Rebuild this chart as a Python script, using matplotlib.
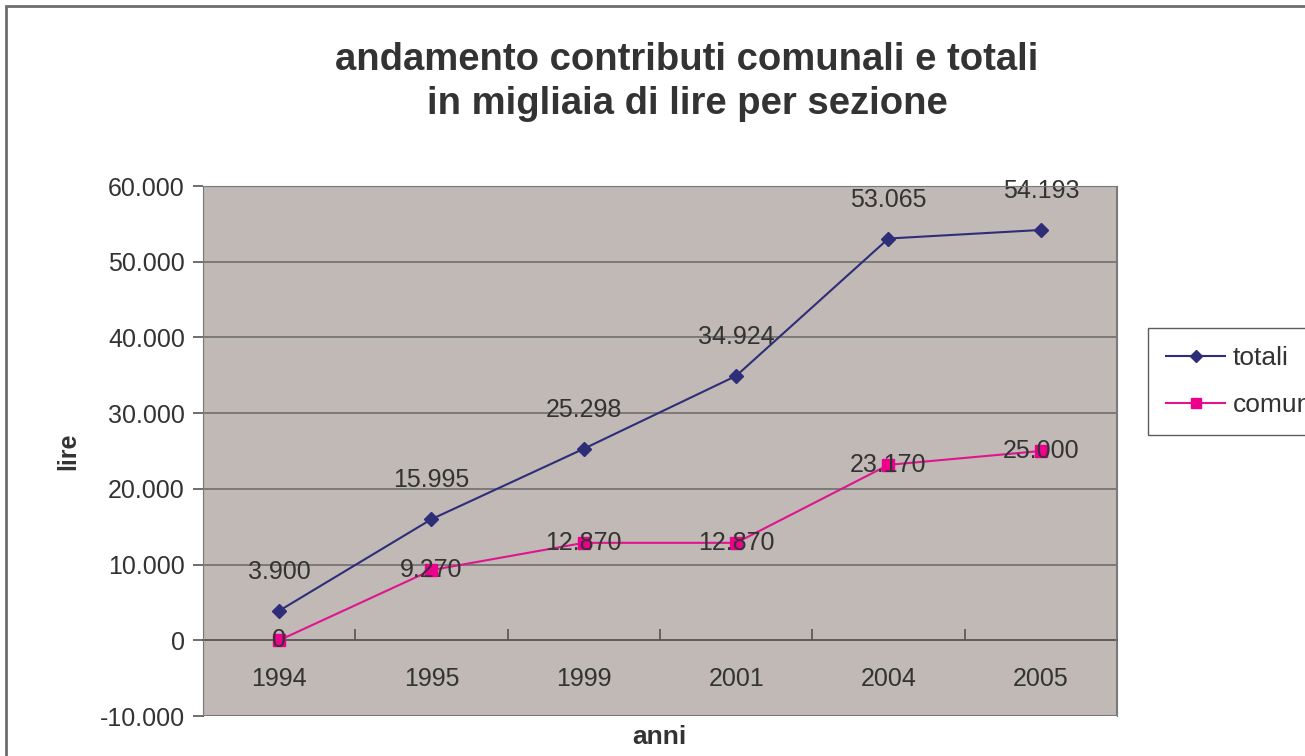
import matplotlib.pyplot as plt
from matplotlib.patches import Rectangle
from matplotlib.ticker import FixedLocator, FuncFormatter

plt.rcParams['font.family'] = ['Liberation Sans', 'DejaVu Sans']

# dati
anni = ['1994', '1995', '1999', '2001', '2004', '2005']
totali = [3900, 15995, 25298, 34924, 53065, 54193]
comunali = [0, 9270, 12870, 12870, 23170, 25000]
y_ticks = [-10000, 0, 10000, 20000, 30000, 40000, 50000, 60000]

testo = '#333333'


def punti(v):  # 12345 -> 12.345
    return f'{v:,.0f}'.replace(',', '.')


fig = plt.figure(figsize=(13.05, 7.56), dpi=100)
ax = fig.add_axes([203 / 1305, 1 - 716 / 756, 914 / 1305, 530 / 756])
ax.set_facecolor('#c0b9b6')

# cornice esterna (tagliata a destra e in basso)
fig.patches.append(Rectangle((6 / 1305, -0.1), 1.2, 1 - 6 / 756 + 0.1,
                             transform=fig.transFigure, fill=False,
                             edgecolor='#6e6e6e', lw=2))

x = list(range(len(anni)))
ax.set_xlim(-0.5, len(anni) - 0.5)
ax.set_ylim(-10000, 60000)

for v in y_ticks:
    if v != 0:
        ax.axhline(v, color='#6f6f6f', lw=1.2, zorder=1)

ax.plot(x, totali, color='#2e2e78', lw=1.5, marker='D', ms=7.5,
        mfc='#2e2e78', mec='#2e2e78', label='totali', zorder=3)
ax.plot(x, comunali, color='#e0158e', lw=1.5, marker='s', ms=8.5,
        mfc='#ec008c', mec='#ec008c', label='comunali', zorder=3)

for i, v in enumerate(totali):
    ax.annotate(punti(v), (i, v), xytext=(0, 28), textcoords='offset points',
                ha='center', va='center', fontsize=18, color=testo, zorder=4)
for i, v in enumerate(comunali):
    ax.annotate(punti(v), (i, v), xytext=(0, 0), textcoords='offset points',
                ha='center', va='center', fontsize=18, color=testo, zorder=4)

# assi
for s in ['top', 'right', 'left']:
    ax.spines[s].set_color('#7a7a7a')
ax.spines['left'].set_color('#555555')
ax.spines['bottom'].set_position(('data', 0))
ax.spines['bottom'].set_color('#555555')
ax.spines['bottom'].set_linewidth(1.3)
ax.add_patch(Rectangle((0, 0), 1, 1, transform=ax.transAxes, fill=False,
                       edgecolor='#7a7a7a', lw=1.5, zorder=5))

ax.xaxis.set_major_locator(FixedLocator(x))
ax.set_xticklabels(anni)
ax.xaxis.set_minor_locator(FixedLocator([i + 0.5 for i in x[:-1]]))
ax.tick_params(axis='x', which='major', length=0, pad=19, labelsize=18,
               labelcolor=testo)
ax.tick_params(axis='x', which='minor', length=8, direction='in',
               color='#555555', width=1.2)

ax.set_yticks(y_ticks)
ax.yaxis.set_major_formatter(FuncFormatter(lambda v, p: punti(v)))
ax.tick_params(axis='y', length=7, color='#555555', width=1.2, pad=6,
               labelsize=18, labelcolor=testo)

ax.set_ylabel('lire', fontsize=18, fontweight='bold', color=testo, labelpad=14)
fig.text(659 / 1305, 1 - 737 / 756, 'anni', fontsize=19, fontweight='bold',
         color=testo, ha='center', va='center')

fig.text(687 / 1305, 1 - 82 / 756,
         'andamento contributi comunali e totali\nin migliaia di lire per sezione',
         fontsize=27.5, fontweight='bold', color=testo, ha='center', va='center',
         linespacing=1.3)

leg = fig.legend(loc='upper left', bbox_to_anchor=(1148 / 1305, 1 - 328 / 756),
                 borderaxespad=0, fontsize=19, frameon=True, fancybox=False,
                 handlelength=2.2, labelspacing=0.85, borderpad=0.7,
                 handletextpad=0.3, markerscale=0.85)
leg.get_frame().set_edgecolor('#333333')
leg.get_frame().set_linewidth(1.0)
for t in leg.get_texts():
    t.set_color(testo)

fig.savefig('out.png', dpi=100)
